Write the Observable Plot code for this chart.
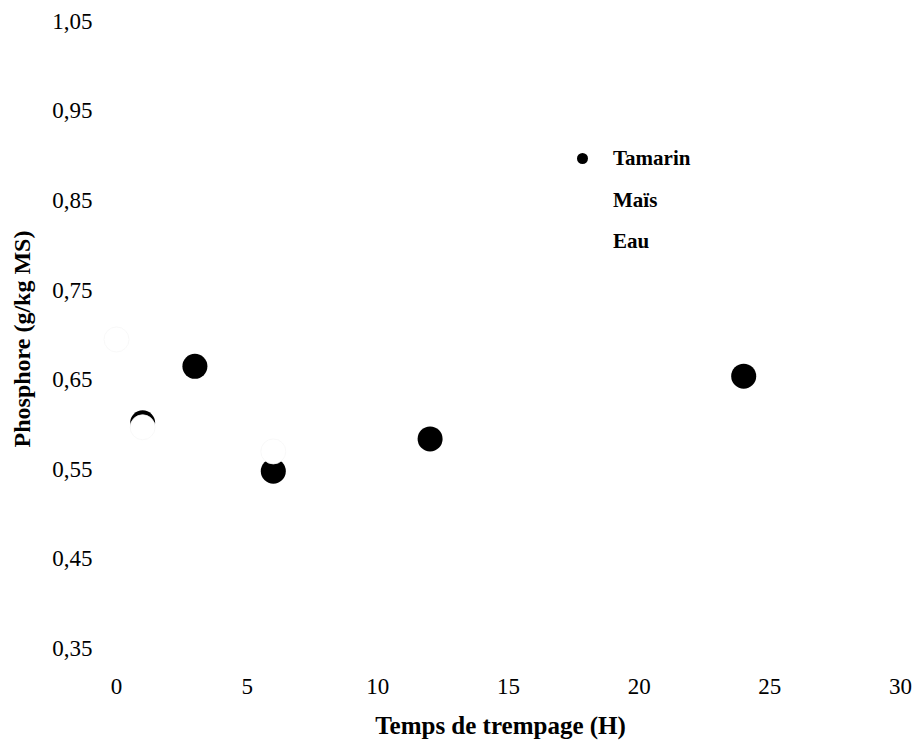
<!DOCTYPE html>
<html>
<head>
<meta charset="utf-8">
<script src="https://cdn.jsdelivr.net/npm/d3@7"></script>
<script src="https://cdn.jsdelivr.net/npm/@observablehq/plot@0.6"></script>
<style>
  html, body { margin: 0; padding: 0; background: #fff; }
  #wrap { position: relative; width: 917px; height: 745px; font-family: "Liberation Serif", "Times New Roman", serif; }
  #legend { position: absolute; left: 0; top: 0; width: 917px; height: 745px; pointer-events: none; }
  .row { position: absolute; left: 577px; height: 24px; display: flex; align-items: center; font-weight: bold; font-size: 21px; color: #000; }
  .sw { width: 11px; height: 11px; border-radius: 50%; margin-right: 25px; }
</style>
</head>
<body>
<div id="wrap"><div id="legend"></div></div>
<script>
// ---- data ----
const categories = ["Tamarin", "Maïs", "Eau"];
const colors = ["#000000", "#ffffff", "#ffffff"];
const tamarinX = [1, 3, 6, 12, 24];
const tamarinY = [0.602, 0.665, 0.548, 0.584, 0.654];
const maisX = [1, 6];
const maisY = [0.597, 0.570];
const eauX = [0];
const eauY = [0.695];
const xTicks = [0, 5, 10, 15, 20, 25, 30];
const yTicks = [0.35, 0.45, 0.55, 0.65, 0.75, 0.85, 0.95, 1.05];
const yTickLabels = ["0,35", "0,45", "0,55", "0,65", "0,75", "0,85", "0,95", "1,05"];
const xTitle = "Temps de trempage (H)";
const yTitle = "Phosphore (g/kg MS)";

const series = [
  {name: categories[0], xs: tamarinX, ys: tamarinY},
  {name: categories[1], xs: maisX, ys: maisY},
  {name: categories[2], xs: eauX, ys: eauY}
];
const rows = series.flatMap(s => s.xs.map((x, i) => ({serie: s.name, x, y: s.ys[i]})));

const font = '"Liberation Serif", "Times New Roman", serif';

const chart = Plot.plot({
  width: 917,
  height: 745,
  marginLeft: 116,
  marginRight: 17,
  marginTop: 21,
  marginBottom: 97,
  style: {fontFamily: font, fontSize: "23px", background: "#fff", color: "#000"},
  x: {domain: [0, 30], ticks: xTicks, label: null},
  y: {domain: [0.35, 1.05], ticks: yTicks, label: null},
  color: {domain: categories, range: colors},
  marks: [
    Plot.axisX({ticks: xTicks, tickSize: 0, tickPadding: 29, fontSize: 23, label: null}),
    Plot.axisY({ticks: yTicks, tickSize: 0, tickPadding: 24, fontSize: 23, label: null,
      tickFormat: d => yTickLabels[yTicks.findIndex(t => Math.abs(t - d) < 1e-9)]}),
    Plot.dot(rows, {x: "x", y: "y", r: 12.5, fill: "serie",
      stroke: d => d.serie === categories[0] ? "none" : "#f6f6f6", strokeWidth: 0.8}),
    Plot.text([xTitle], {frameAnchor: "bottom", dy: 77, dx: -8, text: d => d,
      fontWeight: "bold", fontSize: 25, lineAnchor: "middle", textAnchor: "middle"}),
    Plot.text([yTitle], {frameAnchor: "left", dx: -94, dy: 4, rotate: -90, text: d => d,
      fontWeight: "bold", fontSize: 24, lineAnchor: "middle", textAnchor: "middle"})
  ]
});
const wrap = document.getElementById("wrap");
wrap.insertBefore(chart, wrap.firstChild);

// legend
const legend = document.getElementById("legend");
const rowTops = [146, 188, 229];
categories.forEach((c, i) => {
  const r = document.createElement("div");
  r.className = "row";
  r.style.top = rowTops[i] + "px";
  const sw = document.createElement("span");
  sw.className = "sw";
  sw.style.background = colors[i];
  const t = document.createElement("span");
  t.textContent = c;
  r.appendChild(sw);
  r.appendChild(t);
  legend.appendChild(r);
});
</script>
</body>
</html>
